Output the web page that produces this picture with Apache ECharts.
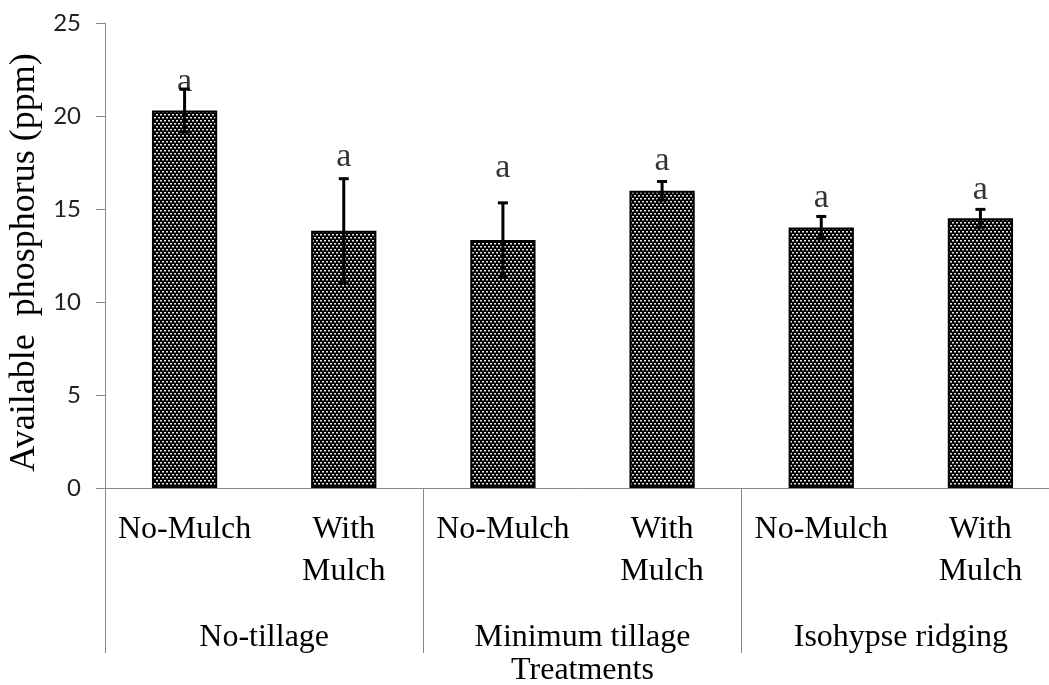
<!DOCTYPE html>
<html><head><meta charset="utf-8">
<script src="https://cdn.jsdelivr.net/npm/echarts@6/dist/echarts.min.js"></script>
<style>
html,body{margin:0;padding:0;background:#fff;overflow:hidden;width:100%;height:100%}
#chart{width:1049px;height:685px}
</style>
</head><body><div id="chart"></div>
<script>
// Tillage systems and mulch treatments
const groups = ['No-tillage', 'Minimum tillage', 'Isohypse ridging'];
const treatments = ['No-Mulch', 'With\nMulch', 'No-Mulch', 'With\nMulch', 'No-Mulch', 'With\nMulch'];
// Mean available phosphorus (ppm) and its error
const meanP = [20.3, 13.83, 13.33, 15.98, 14.0, 14.5];
const errP = [1.15, 2.8, 2.0, 0.5, 0.6, 0.48];
// Significance letters and the height (ppm) each one sits at
const letters = ['a', 'a', 'a', 'a', 'a', 'a'];
const letterY = [21.8, 17.8, 17.2, 17.6, 15.6, 16.0];
// Value axis range
const yMin = 0, yMax = 25, yStep = 5;

// Dotted dark fill for the bars
function dotPattern() {
  const c = document.createElement('canvas');
  c.width = 4; c.height = 6;
  const g = c.getContext('2d');
  g.fillStyle = '#000'; g.fillRect(0, 0, 4, 6);
  g.fillStyle = '#e6e6e6';
  g.fillRect(0, 0, 2, 1);
  g.fillRect(2, 3, 2, 1);
  g.fillStyle = '#777';
  g.fillRect(0, 1, 2, 1);
  g.fillRect(2, 4, 2, 1);
  return c;
}

const serif = "'Liberation Serif', 'Times New Roman', serif";
const chart = echarts.init(document.getElementById('chart'), null, { renderer: 'canvas' });

chart.setOption({
  animation: false,
  backgroundColor: '#fff',
  grid: { left: 105, right: -11, top: 23, bottom: 197, containLabel: false, outerBoundsMode: 'none' },
  xAxis: [
    {
      type: 'category', data: treatments, position: 'bottom', offset: 0,
      name: 'Treatments', nameLocation: 'middle', nameGap: 167,
      nameTextStyle: { fontFamily: serif, fontSize: 32, color: '#000' },
      axisLine: { lineStyle: { color: '#888', width: 1 } },
      axisTick: { show: false },
      axisLabel: { interval: 0, margin: 21, fontFamily: serif, fontSize: 32, lineHeight: 42, color: '#000' }
    },
    {
      type: 'category', data: groups, position: 'bottom', offset: 0,
      axisLine: { show: false },
      axisTick: { show: true, inside: false, length: 165, interval: 0, lineStyle: { color: '#888', width: 1 } },
      axisLabel: { interval: 0, margin: 134, fontFamily: serif, fontSize: 32, lineHeight: 32, color: '#000' }
    }
  ],
  yAxis: {
    type: 'value', min: yMin, max: yMax, interval: yStep,
    name: 'Available  phosphorus (ppm)', nameLocation: 'middle', nameGap: 56,
    nameTextStyle: { fontFamily: serif, fontSize: 36, color: '#000', padding: [0, 14, 0, 0] },
    axisLine: { show: true, lineStyle: { color: '#888', width: 1 } },
    axisTick: { show: true, length: 9, lineStyle: { color: '#888' } },
    splitLine: { show: false },
    axisLabel: { margin: 24, fontFamily: 'Lato, sans-serif', fontSize: 24, color: '#222' }
  },
  series: [
    {
      type: 'bar', data: meanP, barWidth: '41%',
      itemStyle: { color: { image: dotPattern(), repeat: 'repeat' }, borderColor: '#000', borderWidth: 2 }
    },
    {
      type: 'custom', xAxisIndex: 0,
      data: meanP.map((m, i) => [i, m, errP[i]]),
      encode: { x: 0, y: 1 },
      renderItem: function (params, api) {
        const i = api.value(0), m = api.value(1), e = api.value(2);
        const top = api.coord([i, m + e]);
        const bot = api.coord([i, m - e]);
        const hw = 5;
        const st = { stroke: '#000', lineWidth: 3 };
        return {
          type: 'group',
          children: [
            { type: 'line', shape: { x1: top[0], y1: top[1], x2: bot[0], y2: bot[1] }, style: st },
            { type: 'line', shape: { x1: top[0] - hw, y1: top[1], x2: top[0] + hw, y2: top[1] }, style: st },
            { type: 'line', shape: { x1: bot[0] - hw, y1: bot[1], x2: bot[0] + hw, y2: bot[1] }, style: st }
          ]
        };
      },
      z: 5
    },
    {
      type: 'scatter', symbolSize: 0,
      data: letterY.map((v, i) => [i, v]),
      label: {
        show: true, position: 'inside',
        formatter: p => letters[p.dataIndex],
        fontFamily: serif, fontSize: 34, color: '#000'
      },
      z: 6
    }
  ]
});
</script>
</body></html>
